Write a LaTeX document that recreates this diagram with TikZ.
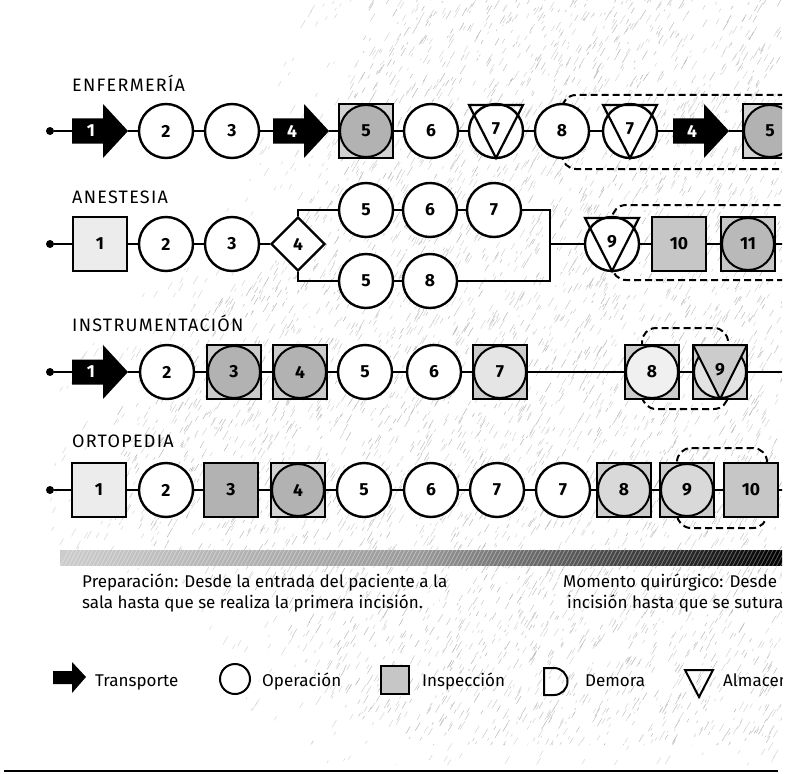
\documentclass[tikz,border=0pt]{standalone}
\usepackage{fontspec}
\setmainfont{Fira Sans}
\usetikzlibrary{shapes.geometric,calc}
\tikzset{
  conn/.style={line width=2.4pt},
  num/.style={font=\fontsize{17.5}{17.5}\selectfont\bfseries},
  op/.style={circle, draw, line width=2.4pt, minimum size=54pt, inner sep=0pt, fill=white, num},
  sq/.style={rectangle, draw, line width=2.4pt, minimum size=54pt, inner sep=0pt, fill=#1, num},
  sq/.default=gray!40,
  circin/.style={path picture={\draw[line width=2pt, fill=#1] (path picture bounding box.center) circle (26pt);}},
  circin/.default=gray!60,
  tr/.style={rectangle, minimum width=56pt, minimum height=54pt, inner sep=0pt},
  dia/.style={diamond, draw, aspect=1, line width=2.4pt, minimum size=54pt, inner sep=0pt, fill=white, num},
  dot/.style={circle, fill=black, inner sep=0pt, minimum size=8pt},
  grp/.style={line width=2pt, dash pattern=on 7pt off 4pt, rounded corners=14pt},
  tri/.style={line width=2.2pt, line join=miter},
  lab/.style={anchor=base west, inner sep=0pt, font=\fontsize{18}{18}\selectfont\addfontfeatures{LetterSpace=7}},
  body/.style={anchor=base west, inner sep=0pt, font=\fontsize{17}{17}\selectfont},
  scrib/.style={line width=0.45pt},
}
\newcommand\transp[4]{%
  \fill (#2-28,#3-12.5) -- (#2+3,#3-12.5) -- (#2+3,#3-27) -- (#2+28,#3) -- (#2+3,#3+27) -- (#2+3,#3+12.5) -- (#2-28,#3+12.5) -- cycle;
  \node[tr] (#1) at (#2,#3) {};
  \node[num, text=white, inner sep=0pt] (#1l) at (#2-9,#3) {#4};
}
\newcommand\stortri[1]{%
  \draw[tri] ($(#1.center)+(-27,-26)$) -- ($(#1.center)+(27,-26)$) -- ($(#1.center)+(0,27)$) -- cycle;
}
\begin{document}
\begin{tikzpicture}[x=1pt,y=-1pt]
\useasboundingbox (0,0) rectangle (789,773);
\begin{scope}
\clip (0,0) rectangle (782,773);
% background texture: soft outer band
\begin{scope}
\clip (300,0) -- (782,0) -- (782,765) -- (330,765) -- (250,710) -- (210,630) -- (110,570) -- (50,540) -- (50,400) -- (110,320) -- (200,250) -- (250,160) -- (280,80) -- cycle;
\pgfmathsetseed{11}
\foreach \i in {1,...,1800}{
  \pgfmathsetmacro{\xx}{rnd*740+40}
  \pgfmathsetmacro{\yy}{rnd*770}
  \pgfmathsetmacro{\ll}{rnd*8+2}
  \draw[scrib, gray!35] (\xx,\yy) -- ++(0.5*\ll,-0.85*\ll);
}
\end{scope}
% background texture: dense core
\begin{scope}
\clip (370,0) -- (782,0) -- (782,745) -- (400,745) -- (320,690) -- (280,615) -- (170,555) -- (110,520) -- (110,420) -- (170,335) -- (270,265) -- (320,175) -- (350,90) -- cycle;
\pgfmathsetseed{7}
\foreach \i in {1,...,5200}{
  \pgfmathsetmacro{\xx}{rnd*700+90}
  \pgfmathsetmacro{\yy}{rnd*760}
  \pgfmathsetmacro{\ll}{rnd*9+2}
  \pgfmathsetmacro{\gg}{int(rnd*30+35)}
  \draw[scrib, gray!\gg] (\xx,\yy) -- ++(0.5*\ll,-0.85*\ll);
}
\end{scope}
% group boxes
\draw[grp] (562,95) rectangle (830,169);
\draw[grp] (612,205) rectangle (830,280);
\draw[grp] (642,328) rectangle (728,409);
\draw[grp] (677,448) rectangle (767,528);
% titles
\node[lab] (tE) at (72,92) {ENFERMERÍA};
\node[lab] (tA) at (72,203) {ANESTESIA};
\node[lab] (tI) at (72,331) {INSTRUMENTACIÓN};
\node[lab] (tO) at (72,447) {ORTOPEDIA};
% Row 1
\node[dot] (e0) at (50,131) {};
\transp{e1}{100}{131}{1}
\node[op] (e2) at (166,131) {2};
\node[op] (e3) at (232,131) {3};
\transp{e4}{301}{131}{4}
\node[sq=gray!35, circin=gray!60] (e5) at (366,131) {5};
\node[op] (e6) at (431,131) {6};
\node[op] (e7) at (496,131) {\raisebox{5pt}{7}};
\stortri{e7}
\node[op] (e8) at (562,131) {8};
\node[op] (e9) at (630,131) {\raisebox{5pt}{7}};
\stortri{e9}
\transp{e10}{701}{131}{4}
\node[sq=gray!35, circin=gray!60] (e11) at (770,131) {5};
\draw[conn] (e0) -- (e1) -- (e2) -- (e3) -- (e4) -- (e5) -- (e6) -- (e7) -- (e8) -- (e9) -- (e10) -- (e11);
% Row 2
\node[dot] (a0) at (50,244) {};
\node[sq=gray!15] (a1) at (100,244) {1};
\node[op] (a2) at (166,244) {2};
\node[op] (a3) at (232,244) {3};
\node[dia] (a4) at (298,244) {4};
\node[op] (a5u) at (366,210) {5};
\node[op] (a6u) at (430,210) {6};
\node[op] (a7u) at (494,210) {7};
\node[op] (a5l) at (366,281) {5};
\node[op] (a8l) at (430,281) {8};
\coordinate (am) at (550,244);
\node[op] (a9) at (612,244) {\raisebox{5pt}{9}};
\stortri{a9}
\node[sq=gray!45] (a10) at (679,244) {10};
\node[sq=gray!45, circin=gray!55] (a11) at (748,244) {11};
\coordinate (aend) at (800,244);
\draw[conn] (a0) -- (a1) -- (a2) -- (a3) -- (a4);
\draw[conn] (a4.north) |- (a5u);
\draw[conn] (a4.south) |- (a5l);
\draw[conn] (a5u) -- (a6u) -- (a7u);
\draw[conn] (a5l) -- (a8l);
\draw[conn] (a7u) -| (am);
\draw[conn] (a8l) -| (am);
\draw[conn] (am) -- (a9) -- (a10) -- (a11) -- (aend);
% Row 3
\node[dot] (i0) at (50,372) {};
\transp{i1}{100}{372}{1}
\node[op] (i2) at (167,372) {2};
\node[sq=gray!40, circin=gray!60] (i3) at (234,372) {3};
\node[sq=gray!40, circin=gray!60] (i4) at (300,372) {4};
\node[op] (i5) at (365,372) {5};
\node[op] (i6) at (434,372) {6};
\node[sq=gray!40, circin=gray!20] (i7) at (500,372) {7};
\node[sq=gray!40, circin=gray!12] (i8) at (652,372) {8};
\node[sq=gray!35, path picture={
  \draw[line width=2pt, fill=gray!22] (path picture bounding box.center) circle (26pt);
  \draw[line width=2pt, fill=gray!40] (path picture bounding box.north west) -- (path picture bounding box.north east) -- (path picture bounding box.south) -- cycle;}] (i9) at (720,372) {\raisebox{5pt}{9}};
\coordinate (iend) at (800,372);
\draw[conn] (i0) -- (i1) -- (i2) -- (i3) -- (i4) -- (i5) -- (i6) -- (i7) -- (i8) -- (i9) -- (iend);
% Row 4
\node[dot] (o0) at (50,490) {};
\node[sq=gray!15] (o1) at (99,490) {1};
\node[op] (o2) at (166,490) {2};
\node[sq=gray!60] (o3) at (231,490) {3};
\node[sq=gray!35, circin=gray!60] (o4) at (298,490) {4};
\node[op] (o5) at (364,490) {5};
\node[op] (o6) at (431,490) {6};
\node[op] (o7) at (497,490) {7};
\node[op] (o7b) at (563,490) {7};
\node[sq=gray!40, circin=gray!30] (o8) at (624,490) {8};
\node[sq=gray!40, circin=gray!30] (o9) at (687,490) {9};
\node[sq=gray!45] (o10) at (751,490) {10};
\coordinate (oend) at (800,490);
\draw[conn] (o0) -- (o1) -- (o2) -- (o3) -- (o4) -- (o5) -- (o6) -- (o7) -- (o7b) -- (o8) -- (o9) -- (o10) -- (oend);
% phase bar
\shade[left color=gray!40, right color=black, middle color=gray!80] (60,550) rectangle (782,565);
\begin{scope}
\clip (60,550) rectangle (782,565);
\foreach \k in {0,4,...,740}{
  \draw[white, opacity=0.35, line width=0.8pt] (60+\k,567) -- ++(10,-19);
}
\end{scope}
% texts
\node[body] (p1) at (82,587) {Preparación: Desde la entrada del paciente a la};
\node[body] (p2) at (82,608) {sala hasta que se realiza la primera incisión.};
\node[body] (m1) at (563,587) {Momento quirúrgico: Desde};
\node[body] (m2) at (567,608) {incisión hasta que se sutura};
% legend
\fill (53,671) -- (72,671) -- (72,662) -- (86,677) -- (72,693) -- (72,684) -- (53,684) -- cycle;
\node[body] (lt) at (95,686) {Transporte};
\draw[line width=2pt] (235,679) circle (15pt);
\node[body] (lo) at (262,686) {Operación};
\draw[line width=2pt, fill=gray!45] (381,666) rectangle (409,694);
\node[body] (li) at (422,686) {Inspección};
\draw[line width=2pt] (544,668) -- (554,668) arc (-90:90:13.5) -- (544,695) -- cycle;
\node[body] (ld) at (585,686) {Demora};
\draw[line width=2pt, line join=miter] (685,670) -- (713,670) -- (699,697) -- cycle;
\node[body] (la) at (723,686) {Almacen};
\draw[line width=1.5pt] (4,771) -- (778,771);
\end{scope}
\end{tikzpicture}
\end{document}
